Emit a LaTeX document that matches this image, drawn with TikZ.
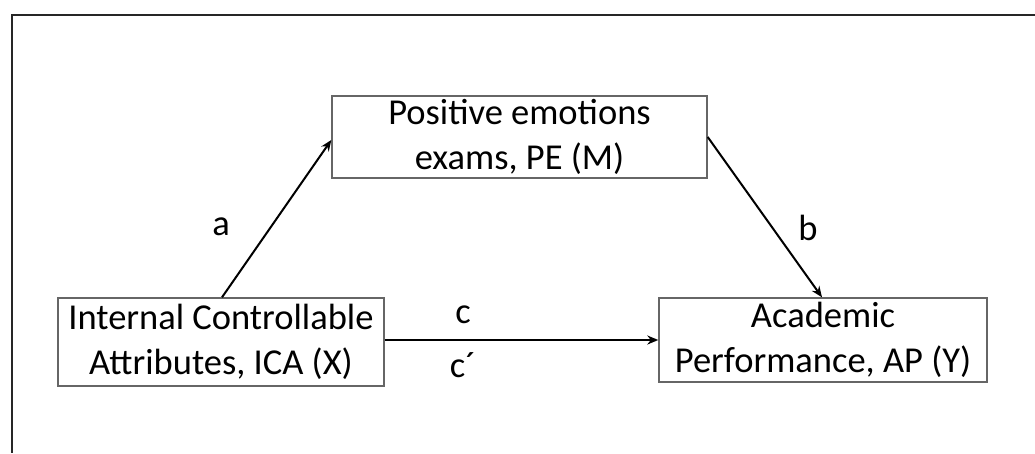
\documentclass[tikz,border=0pt]{standalone}
\usepackage{fontspec}
\setmainfont{Carlito}
\usetikzlibrary{arrows.meta}

\begin{document}
\begin{tikzpicture}[
  x = 1pt, y = -1pt,
  every node/.style = {font=\fontsize{36.5}{45}\selectfont},
  box/.style = {draw=black!60, line width=1.4pt, rectangle, align=center,
                fill=white, inner sep=0pt},
  lbl/.style = {inner sep=0pt},
  go/.style  = {-{Stealth[length=11pt,width=9pt]}, line width=2pt},
  frame/.style = {line width=2.2pt, black!85},
]

\useasboundingbox (0,0) rectangle (1035,453);

% --- Outer frame (top and left only) --------------------------------------
\draw[frame] (1035,15) -- (12,15) -- (12,453);

% --- Variables ------------------------------------------------------------
\node[box, minimum width=375pt, minimum height=82pt] (pe) at (519.5,137)
  {Positive emotions\\ exams, PE (M)};
\node[box, minimum width=326pt, minimum height=88pt] (ica) at (221,342)
  {Internal Controllable\\ Attributes, ICA (X)};
\node[box, minimum width=328pt, minimum height=84pt] (ap) at (823,340)
  {Academic\\ Performance, AP (Y)};

% --- Paths ----------------------------------------------------------------
\draw[go] ([xshift=1pt]ica.north) -- ([yshift=-3pt]pe.west);
\node[lbl] (la) at (221,226.5) {a};

\draw[go] (pe.east) -- ([xshift=-1pt]ap.north);
\node[lbl] (lb) at (808,228) {b};

\draw[go] ([yshift=2pt]ica.east) -- ([yshift=2pt]ica.east -| ap.west);
\node[lbl] (lc) at (463,314.5) {c};
\node[lbl] (lcp) at (463,365) {c´};

\end{tikzpicture}
\end{document}
